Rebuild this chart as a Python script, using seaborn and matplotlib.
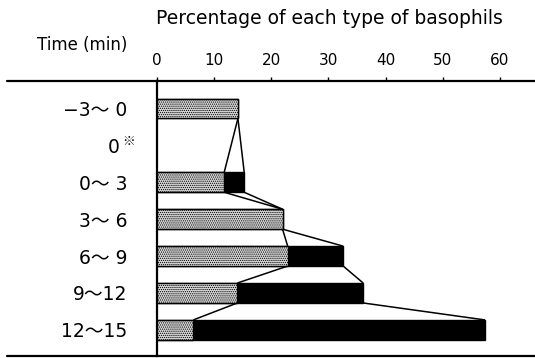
import matplotlib
matplotlib.use("Agg")
import matplotlib.pyplot as plt
from matplotlib.lines import Line2D
from matplotlib.transforms import ScaledTranslation
import seaborn as sns
import pandas as pd
import numpy as np

# ---- data ----
categories = ["−3～ 0", "0※", "0～ 3", "3～ 6", "6～ 9", "9～12", "12～15"]
dotted = [14.2, np.nan, 11.8, 22.0, 22.9, 14.1, 6.4]     # stippled type (%)
black = [0.0, np.nan, 3.5, 0.0, 9.7, 22.0, 51.0]         # black type (%)
xticks = [0, 10, 20, 30, 40, 50, 60]
title = "Percentage of each type of basophils"
ylabel = "Time (min)"

total = [d + b if not np.isnan(d) else np.nan for d, b in zip(dotted, black)]
df = pd.DataFrame({"time": categories, "dotted": dotted, "total": total}).dropna()

sns.set_theme(style="white")
plt.rcParams["font.family"] = ["DejaVu Sans", "Noto Sans CJK JP"]
plt.rcParams["hatch.linewidth"] = 0.6
plt.rcParams["hatch.color"] = "#222222"
plt.rcParams["text.color"] = "black"
plt.rcParams["xtick.color"] = "black"
plt.rcParams["ytick.color"] = "black"

W, H = 535, 358
fig = plt.figure(figsize=(W / 100, H / 100), dpi=100)
ax_left, ax_top, ax_bot = 156.7, 80.5, 356.0
ax = fig.add_axes([ax_left / W, 1 - ax_bot / H, 1 - ax_left / W, (ax_bot - ax_top) / H])

bw = 0.54
sns.barplot(data=df, y="time", x="total", order=categories, orient="h",
            color="black", saturation=1, width=bw, edgecolor="black",
            linewidth=1.0, ax=ax, zorder=2)
sns.barplot(data=df, y="time", x="dotted", order=categories, orient="h",
            color="#d8d8d8", saturation=1, width=bw, edgecolor="black",
            linewidth=1.0, hatch="........", ax=ax, zorder=3)

# connecting lines between consecutive bar ends
idx = [i for i, d in enumerate(dotted) if not np.isnan(d)]
for a, b in zip(idx[:-1], idx[1:]):
    for arr in (dotted, total):
        ax.plot([arr[a], arr[b]], [a + bw / 2, b - bw / 2], color="black",
                lw=1.1, zorder=4, solid_capstyle="butt")

ax.set_xlim(0, (W - ax_left) / 5.72)
ax.set_ylim(6 + (ax_bot - 329.9) / 36.9, -(108.5 - ax_top) / 36.9)
ax.set_xticks(xticks)
ax.xaxis.tick_top()
ax.tick_params(axis="x", direction="out", length=3, width=1, pad=6,
               labelsize=11, colors="black", top=True, bottom=False)
ax.set_yticks(range(len(categories)))
ylabels = [c if c != "0※" else "0" for c in categories]
ax.set_yticklabels(ylabels, fontsize=13.5)
ax.tick_params(axis="y", length=0, pad=21)
ax.set_xlabel("")
ax.set_ylabel("")
# shift the "0" of the reference-marked row left to leave room for the mark
star_row = categories.index("0※")
lab = ax.get_yticklabels()[star_row]
lab.set_transform(lab.get_transform() + ScaledTranslation(-6 / 72, 0, fig.dpi_scale_trans))
ax.annotate("※", xy=(0, star_row), xycoords=("axes fraction", "data"),
            xytext=(-20.0, 2.5), textcoords="offset points", fontsize=9,
            ha="center", va="center", family=["Noto Sans CJK JP", "DejaVu Sans"])

for s in ["top", "bottom", "left"]:
    ax.spines[s].set_visible(True)
    ax.spines[s].set_color("black")
    ax.spines[s].set_linewidth(1.6)
ax.spines["right"].set_visible(False)

# extend top and bottom rules to the left
for y in (ax_top, ax_bot):
    fig.add_artist(Line2D([7 / W, ax_left / W], [1 - y / H, 1 - y / H],
                          color="black", lw=1.6, transform=fig.transFigure))

fig.text(329 / W, 1 - 18 / H, title, ha="center", va="center", fontsize=13.5)
fig.text(37 / W, 1 - 45 / H, ylabel, ha="left", va="center", fontsize=12)

fig.savefig("out.png", dpi=100)
